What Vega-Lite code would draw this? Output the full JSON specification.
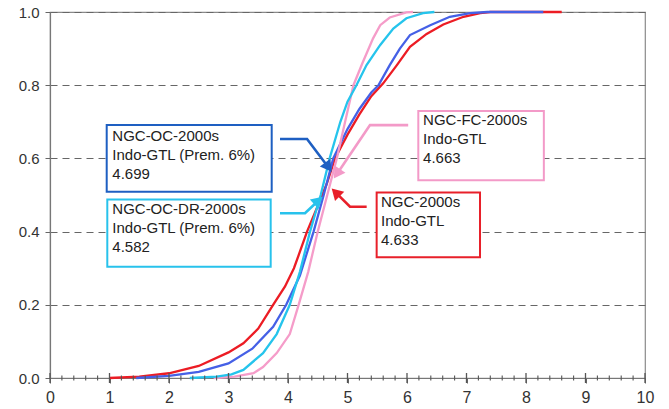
{
  "$schema": "https://vega.github.io/schema/vega-lite/v6.json",
  "width": 595,
  "height": 366,
  "autosize": "none",
  "padding": {"left": 50, "top": 12, "right": 24, "bottom": 31},
  "background": "white",
  "config": {
    "view": {"stroke": "#8a8a8a", "strokeWidth": 1.2},
    "font": "Liberation Sans"
  },
  "datasets": {
    "curves": [
      {"series": "NGC-2000s", "x": 1.0, "y": 0},
      {"series": "NGC-2000s", "x": 1.5, "y": 0.004},
      {"series": "NGC-2000s", "x": 2.0, "y": 0.013},
      {"series": "NGC-2000s", "x": 2.5, "y": 0.033},
      {"series": "NGC-2000s", "x": 3.0, "y": 0.07},
      {"series": "NGC-2000s", "x": 3.25, "y": 0.095},
      {"series": "NGC-2000s", "x": 3.5, "y": 0.135},
      {"series": "NGC-2000s", "x": 3.75, "y": 0.2},
      {"series": "NGC-2000s", "x": 3.95, "y": 0.25},
      {"series": "NGC-2000s", "x": 4.1, "y": 0.3},
      {"series": "NGC-2000s", "x": 4.2, "y": 0.345},
      {"series": "NGC-2000s", "x": 4.32, "y": 0.4},
      {"series": "NGC-2000s", "x": 4.5, "y": 0.47},
      {"series": "NGC-2000s", "x": 4.65, "y": 0.53},
      {"series": "NGC-2000s", "x": 4.79, "y": 0.6},
      {"series": "NGC-2000s", "x": 5.0, "y": 0.665},
      {"series": "NGC-2000s", "x": 5.2, "y": 0.72},
      {"series": "NGC-2000s", "x": 5.4, "y": 0.77},
      {"series": "NGC-2000s", "x": 5.6, "y": 0.805},
      {"series": "NGC-2000s", "x": 5.83, "y": 0.855},
      {"series": "NGC-2000s", "x": 6.05, "y": 0.905},
      {"series": "NGC-2000s", "x": 6.33, "y": 0.94},
      {"series": "NGC-2000s", "x": 6.61, "y": 0.966},
      {"series": "NGC-2000s", "x": 6.95, "y": 0.987},
      {"series": "NGC-2000s", "x": 7.23, "y": 0.997},
      {"series": "NGC-2000s", "x": 7.4, "y": 1.0},
      {"series": "NGC-2000s", "x": 8.6, "y": 1.0},
      {"series": "NGC-OC-2000s", "x": 1.45, "y": 0},
      {"series": "NGC-OC-2000s", "x": 2.0, "y": 0.006},
      {"series": "NGC-OC-2000s", "x": 2.5, "y": 0.017},
      {"series": "NGC-OC-2000s", "x": 3.0, "y": 0.04},
      {"series": "NGC-OC-2000s", "x": 3.4, "y": 0.08},
      {"series": "NGC-OC-2000s", "x": 3.75, "y": 0.14},
      {"series": "NGC-OC-2000s", "x": 3.97, "y": 0.2},
      {"series": "NGC-OC-2000s", "x": 4.2, "y": 0.28},
      {"series": "NGC-OC-2000s", "x": 4.43, "y": 0.4},
      {"series": "NGC-OC-2000s", "x": 4.6, "y": 0.5},
      {"series": "NGC-OC-2000s", "x": 4.76, "y": 0.6},
      {"series": "NGC-OC-2000s", "x": 5.0, "y": 0.68},
      {"series": "NGC-OC-2000s", "x": 5.2, "y": 0.735},
      {"series": "NGC-OC-2000s", "x": 5.4, "y": 0.78},
      {"series": "NGC-OC-2000s", "x": 5.52, "y": 0.8},
      {"series": "NGC-OC-2000s", "x": 5.71, "y": 0.855},
      {"series": "NGC-OC-2000s", "x": 5.88, "y": 0.9},
      {"series": "NGC-OC-2000s", "x": 6.05, "y": 0.937},
      {"series": "NGC-OC-2000s", "x": 6.39, "y": 0.964},
      {"series": "NGC-OC-2000s", "x": 6.72, "y": 0.987},
      {"series": "NGC-OC-2000s", "x": 7.06, "y": 0.997},
      {"series": "NGC-OC-2000s", "x": 7.35, "y": 1.0},
      {"series": "NGC-OC-2000s", "x": 8.29, "y": 1.0},
      {"series": "NGC-FC-2000s", "x": 2.75, "y": 0},
      {"series": "NGC-FC-2000s", "x": 3.1, "y": 0.004},
      {"series": "NGC-FC-2000s", "x": 3.42, "y": 0.013},
      {"series": "NGC-FC-2000s", "x": 3.58, "y": 0.03},
      {"series": "NGC-FC-2000s", "x": 3.81, "y": 0.068},
      {"series": "NGC-FC-2000s", "x": 4.03, "y": 0.12},
      {"series": "NGC-FC-2000s", "x": 4.17, "y": 0.195},
      {"series": "NGC-FC-2000s", "x": 4.34, "y": 0.29},
      {"series": "NGC-FC-2000s", "x": 4.5, "y": 0.4},
      {"series": "NGC-FC-2000s", "x": 4.66, "y": 0.5},
      {"series": "NGC-FC-2000s", "x": 4.82, "y": 0.6},
      {"series": "NGC-FC-2000s", "x": 4.96, "y": 0.7},
      {"series": "NGC-FC-2000s", "x": 5.1, "y": 0.8},
      {"series": "NGC-FC-2000s", "x": 5.25, "y": 0.86},
      {"series": "NGC-FC-2000s", "x": 5.43, "y": 0.928},
      {"series": "NGC-FC-2000s", "x": 5.55, "y": 0.964},
      {"series": "NGC-FC-2000s", "x": 5.71, "y": 0.985},
      {"series": "NGC-FC-2000s", "x": 5.99, "y": 0.999},
      {"series": "NGC-FC-2000s", "x": 6.1, "y": 1.0},
      {"series": "NGC-OC-DR-2000s", "x": 2.35, "y": 0},
      {"series": "NGC-OC-DR-2000s", "x": 2.8, "y": 0.004},
      {"series": "NGC-OC-DR-2000s", "x": 3.05, "y": 0.01},
      {"series": "NGC-OC-DR-2000s", "x": 3.25, "y": 0.022},
      {"series": "NGC-OC-DR-2000s", "x": 3.58, "y": 0.068},
      {"series": "NGC-OC-DR-2000s", "x": 3.81, "y": 0.12},
      {"series": "NGC-OC-DR-2000s", "x": 4.03, "y": 0.2},
      {"series": "NGC-OC-DR-2000s", "x": 4.2, "y": 0.29},
      {"series": "NGC-OC-DR-2000s", "x": 4.37, "y": 0.4},
      {"series": "NGC-OC-DR-2000s", "x": 4.55, "y": 0.5},
      {"series": "NGC-OC-DR-2000s", "x": 4.7, "y": 0.6},
      {"series": "NGC-OC-DR-2000s", "x": 4.88, "y": 0.7},
      {"series": "NGC-OC-DR-2000s", "x": 5.0, "y": 0.755},
      {"series": "NGC-OC-DR-2000s", "x": 5.15, "y": 0.8},
      {"series": "NGC-OC-DR-2000s", "x": 5.32, "y": 0.855},
      {"series": "NGC-OC-DR-2000s", "x": 5.55, "y": 0.91},
      {"series": "NGC-OC-DR-2000s", "x": 5.77, "y": 0.955},
      {"series": "NGC-OC-DR-2000s", "x": 5.99, "y": 0.983},
      {"series": "NGC-OC-DR-2000s", "x": 6.27, "y": 0.997},
      {"series": "NGC-OC-DR-2000s", "x": 6.46, "y": 1.0}
    ],
    "majorTicks": [
      {"v": 0, "y": 0}, {"v": 1, "y": 0}, {"v": 2, "y": 0}, {"v": 3, "y": 0},
      {"v": 4, "y": 0}, {"v": 5, "y": 0}, {"v": 6, "y": 0}, {"v": 7, "y": 0},
      {"v": 8, "y": 0}, {"v": 9, "y": 0}, {"v": 10, "y": 0}
    ],
    "minorTicks": [
      {"v": 0.2, "y": 0}, {"v": 0.4, "y": 0}, {"v": 0.6, "y": 0}, {"v": 0.8, "y": 0},
      {"v": 1.2, "y": 0}, {"v": 1.4, "y": 0}, {"v": 1.6, "y": 0}, {"v": 1.8, "y": 0},
      {"v": 2.2, "y": 0}, {"v": 2.4, "y": 0}, {"v": 2.6, "y": 0}, {"v": 2.8, "y": 0},
      {"v": 3.2, "y": 0}, {"v": 3.4, "y": 0}, {"v": 3.6, "y": 0}, {"v": 3.8, "y": 0},
      {"v": 4.2, "y": 0}, {"v": 4.4, "y": 0}, {"v": 4.6, "y": 0}, {"v": 4.8, "y": 0},
      {"v": 5.2, "y": 0}, {"v": 5.4, "y": 0}, {"v": 5.6, "y": 0}, {"v": 5.8, "y": 0},
      {"v": 6.2, "y": 0}, {"v": 6.4, "y": 0}, {"v": 6.6, "y": 0}, {"v": 6.8, "y": 0},
      {"v": 7.2, "y": 0}, {"v": 7.4, "y": 0}, {"v": 7.6, "y": 0}, {"v": 7.8, "y": 0},
      {"v": 8.2, "y": 0}, {"v": 8.4, "y": 0}, {"v": 8.6, "y": 0}, {"v": 8.8, "y": 0},
      {"v": 9.2, "y": 0}, {"v": 9.4, "y": 0}, {"v": 9.6, "y": 0}, {"v": 9.8, "y": 0}
    ],
    "boxes": [
      {"series": "NGC-OC-2000s", "x1": 0.953, "x2": 3.726, "y1": 0.509, "y2": 0.691},
      {"series": "NGC-OC-DR-2000s", "x1": 0.963, "x2": 3.709, "y1": 0.304, "y2": 0.488},
      {"series": "NGC-FC-2000s", "x1": 6.19, "x2": 8.3, "y1": 0.54, "y2": 0.7295},
      {"series": "NGC-2000s", "x1": 5.49, "x2": 7.227, "y1": 0.33, "y2": 0.507}
    ],
    "labels": [
      {"series": "NGC-OC-2000s", "x": 1.047, "y": 0.6475, "text": "NGC-OC-2000s\nIndo-GTL (Prem. 6%)\n4.699"},
      {"series": "NGC-OC-DR-2000s", "x": 1.047, "y": 0.448, "text": "NGC-OC-DR-2000s\nIndo-GTL (Prem. 6%)\n4.582"},
      {"series": "NGC-FC-2000s", "x": 6.27, "y": 0.691, "text": "NGC-FC-2000s\nIndo-GTL\n4.663"},
      {"series": "NGC-2000s", "x": 5.563, "y": 0.468, "text": "NGC-2000s\nIndo-GTL\n4.633"}
    ],
    "arrows": [
      {"series": "NGC-OC-2000s", "seq": 1, "x": 3.866, "y": 0.653},
      {"series": "NGC-OC-2000s", "seq": 2, "x": 4.32, "y": 0.653},
      {"series": "NGC-OC-2000s", "seq": 3, "x": 4.7, "y": 0.571},
      {"series": "NGC-OC-DR-2000s", "seq": 1, "x": 3.866, "y": 0.45},
      {"series": "NGC-OC-DR-2000s", "seq": 2, "x": 4.286, "y": 0.45},
      {"series": "NGC-OC-DR-2000s", "seq": 3, "x": 4.54, "y": 0.489},
      {"series": "NGC-FC-2000s", "seq": 1, "x": 6.02, "y": 0.691},
      {"series": "NGC-FC-2000s", "seq": 2, "x": 5.378, "y": 0.691},
      {"series": "NGC-FC-2000s", "seq": 3, "x": 4.8, "y": 0.552},
      {"series": "NGC-2000s", "seq": 1, "x": 5.322, "y": 0.468},
      {"series": "NGC-2000s", "seq": 2, "x": 5.042, "y": 0.468},
      {"series": "NGC-2000s", "seq": 3, "x": 4.77, "y": 0.512}
    ],
    "heads": [
      {"series": "NGC-OC-2000s", "x": 4.679, "y": 0.576},
      {"series": "NGC-OC-DR-2000s", "x": 4.511, "y": 0.4847},
      {"series": "NGC-FC-2000s", "x": 4.822, "y": 0.5577},
      {"series": "NGC-2000s", "x": 4.801, "y": 0.5071}
    ]
  },
  "layer": [
    {
      "data": {"name": "curves"},
      "mark": {"type": "line", "strokeWidth": 2.3, "interpolate": "linear"},
      "encoding": {
        "x": {
          "field": "x", "type": "quantitative",
          "scale": {"domain": [0, 10], "nice": false, "zero": false},
          "axis": {
            "title": null, "values": [0, 1, 2, 3, 4, 5, 6, 7, 8, 9, 10], "format": "d",
            "tickSize": 5, "tickColor": "#666", "domainColor": "#777", "domainWidth": 1.2,
            "labelFontSize": 16, "labelColor": "#333", "labelPadding": 6,
            "labelFlush": false, "grid": false
          }
        },
        "y": {
          "field": "y", "type": "quantitative",
          "scale": {"domain": [0, 1], "nice": false},
          "axis": {
            "title": null, "values": [0, 0.2, 0.4, 0.6, 0.8, 1.0], "format": ".1f",
            "tickSize": 5, "tickColor": "#666", "domainColor": "#777", "domainWidth": 1.2,
            "labelFontSize": 15, "labelColor": "#333", "labelPadding": 6,
            "grid": true, "gridDash": [7, 5], "gridColor": "#666", "gridWidth": 1.1
          }
        },
        "color": {
          "field": "series", "type": "nominal",
          "scale": {
            "domain": ["NGC-2000s", "NGC-OC-2000s", "NGC-FC-2000s", "NGC-OC-DR-2000s"],
            "range": ["#ec1c24", "#4560e6", "#f59cc9", "#25c4ec"]
          },
          "legend": null
        },
        "order": {"field": "x", "type": "quantitative"}
      }
    },
    {
      "data": {"name": "minorTicks"},
      "mark": {"type": "point", "shape": "stroke", "angle": 90, "size": 25, "filled": false, "stroke": "#555", "strokeWidth": 1.1, "opacity": 1},
      "encoding": {
        "x": {"field": "v", "type": "quantitative"},
        "y": {"field": "y", "type": "quantitative"}
      }
    },
    {
      "data": {"name": "majorTicks"},
      "mark": {"type": "point", "shape": "stroke", "angle": 90, "size": 100, "filled": false, "stroke": "#555", "strokeWidth": 1.3, "opacity": 1},
      "encoding": {
        "x": {"field": "v", "type": "quantitative"},
        "y": {"field": "y", "type": "quantitative"}
      }
    },
    {
      "data": {"name": "boxes"},
      "mark": {"type": "rect", "fill": "white", "strokeWidth": 2},
      "encoding": {
        "x": {"field": "x1", "type": "quantitative"},
        "x2": {"field": "x2"},
        "y": {"field": "y1", "type": "quantitative"},
        "y2": {"field": "y2"},
        "stroke": {
          "field": "series", "type": "nominal",
          "scale": {
            "domain": ["NGC-2000s", "NGC-OC-2000s", "NGC-FC-2000s", "NGC-OC-DR-2000s"],
            "range": ["#e8202a", "#1e5fc2", "#f39ac8", "#28c2ec"]
          },
          "legend": null
        }
      }
    },
    {
      "data": {"name": "arrows"},
      "mark": {"type": "line", "strokeWidth": 2.6, "strokeCap": "butt"},
      "encoding": {
        "x": {"field": "x", "type": "quantitative"},
        "y": {"field": "y", "type": "quantitative"},
        "detail": {"field": "series", "type": "nominal"},
        "order": {"field": "seq", "type": "quantitative"},
        "stroke": {
          "field": "series", "type": "nominal",
          "scale": {
            "domain": ["NGC-2000s", "NGC-OC-2000s", "NGC-FC-2000s", "NGC-OC-DR-2000s"],
            "range": ["#e8202a", "#1e5fc2", "#f39ac8", "#28c2ec"]
          },
          "legend": null
        }
      }
    },
    {
      "data": {"name": "heads"},
      "transform": [{"filter": "datum.series === 'NGC-OC-2000s'"}],
      "mark": {"type": "point", "filled": true, "opacity": 1, "shape": "triangle-up", "size": 169, "angle": 144, "color": "#1e5fc2", "strokeWidth": 0},
      "encoding": {
        "x": {"field": "x", "type": "quantitative"},
        "y": {"field": "y", "type": "quantitative"}
      }
    },
    {
      "data": {"name": "heads"},
      "transform": [{"filter": "datum.series === 'NGC-OC-DR-2000s'"}],
      "mark": {"type": "point", "filled": true, "opacity": 1, "shape": "triangle-up", "size": 169, "angle": 48, "color": "#28c2ec", "strokeWidth": 0},
      "encoding": {
        "x": {"field": "x", "type": "quantitative"},
        "y": {"field": "y", "type": "quantitative"}
      }
    },
    {
      "data": {"name": "heads"},
      "transform": [{"filter": "datum.series === 'NGC-FC-2000s'"}],
      "mark": {"type": "point", "filled": true, "opacity": 1, "shape": "triangle-up", "size": 169, "angle": 214, "color": "#f39ac8", "strokeWidth": 0},
      "encoding": {
        "x": {"field": "x", "type": "quantitative"},
        "y": {"field": "y", "type": "quantitative"}
      }
    },
    {
      "data": {"name": "heads"},
      "transform": [{"filter": "datum.series === 'NGC-2000s'"}],
      "mark": {"type": "point", "filled": true, "opacity": 1, "shape": "triangle-up", "size": 169, "angle": 315, "color": "#e8202a", "strokeWidth": 0},
      "encoding": {
        "x": {"field": "x", "type": "quantitative"},
        "y": {"field": "y", "type": "quantitative"}
      }
    },
    {
      "data": {"name": "labels"},
      "mark": {"type": "text", "align": "left", "baseline": "alphabetic", "fontSize": 15, "lineHeight": 19, "lineBreak": "\n", "color": "#222"},
      "encoding": {
        "x": {"field": "x", "type": "quantitative"},
        "y": {"field": "y", "type": "quantitative"},
        "text": {"field": "text", "type": "nominal"}
      }
    }
  ]
}
